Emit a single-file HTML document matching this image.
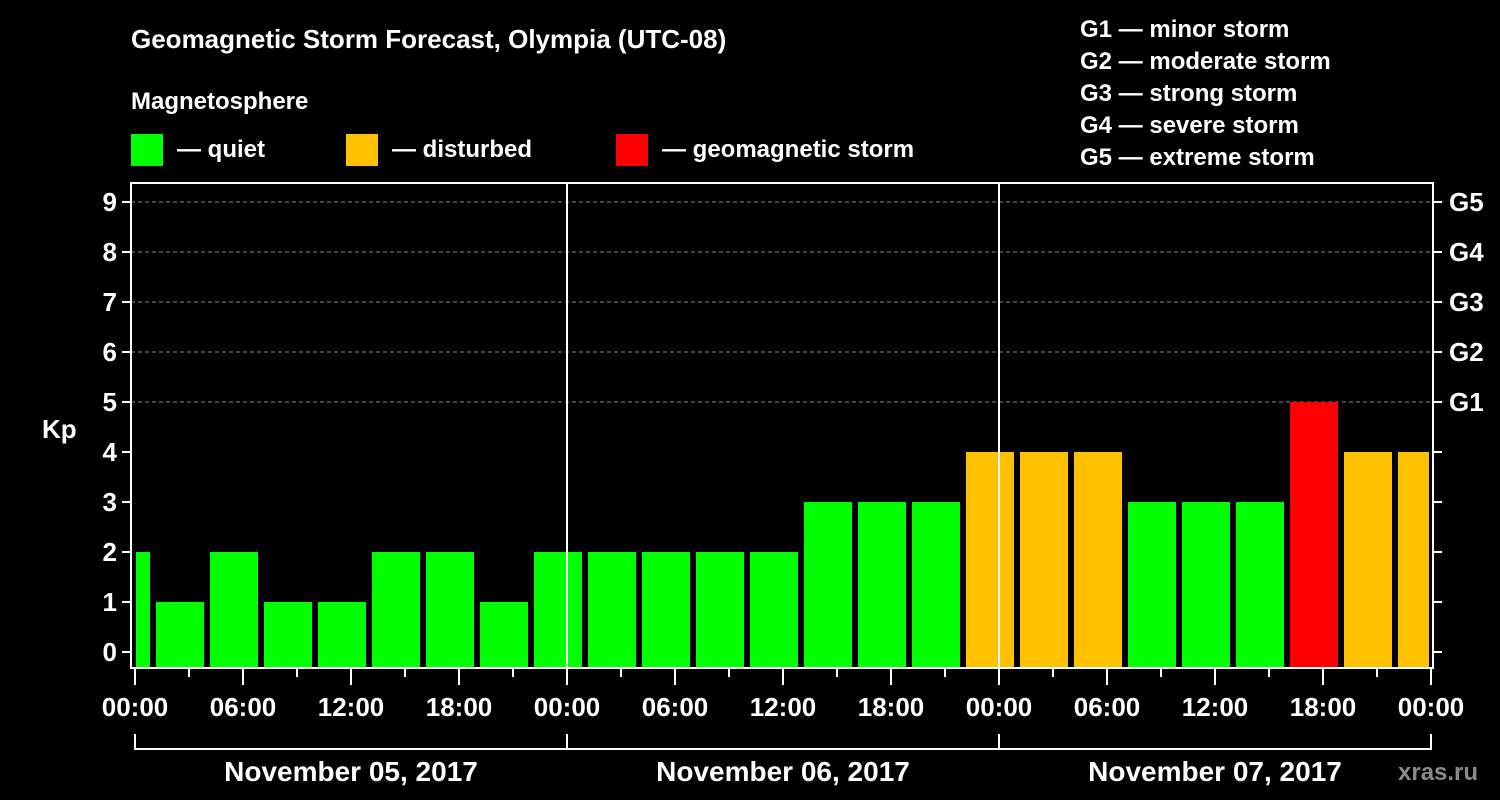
<!DOCTYPE html>
<html><head><meta charset="utf-8"><style>
body{margin:0;background:#000;width:1500px;height:800px;overflow:hidden}
svg{display:block}
text{font-family:"Liberation Sans",Arial,sans-serif;font-weight:bold;fill:#fff}
</style></head><body>
<svg id="chart" width="1500" height="800">
<text x="131" y="48" font-size="26">Geomagnetic Storm Forecast, Olympia (UTC-08)</text>
<text x="131" y="109" font-size="24">Magnetosphere</text>
<g><rect x="131" y="134" width="32" height="32" fill="#00ff00"/><text x="177" y="157" font-size="24">— quiet</text></g>
<g><rect x="346" y="134" width="32" height="32" fill="#ffc000"/><text x="392" y="157" font-size="24">— disturbed</text></g>
<g><rect x="616" y="134" width="32" height="32" fill="#ff0000"/><text x="662" y="157" font-size="24">— geomagnetic storm</text></g>
<g font-size="24">
<text x="1080" y="37">G1 — minor storm</text>
<text x="1080" y="69">G2 — moderate storm</text>
<text x="1080" y="101">G3 — strong storm</text>
<text x="1080" y="133">G4 — severe storm</text>
<text x="1080" y="165">G5 — extreme storm</text>
</g>
<text x="42" y="438" font-size="26">Kp</text>
<text x="1398" y="780" font-size="24" fill="#888" style="fill:#8a8a8a">xras.ru</text>
<g id="grid"></g><g id="bars"></g><g id="axes"></g>
</svg>
<script>
const kpValues=[2,1,2,1,1,2,2,1,2,2,2,2,2,3,3,3,4,4,4,3,3,3,5,4,4];
const barStartHours=[-2,1,4,7,10,13,16,19,22,25,28,31,34,37,40,43,46,49,52,55,58,61,64,67,70];
const dayLabels=["November 05, 2017","November 06, 2017","November 07, 2017"];
const yTicks=[0,1,2,3,4,5,6,7,8,9];
const gLabels=[[5,"G1"],[6,"G2"],[7,"G3"],[8,"G4"],[9,"G5"]];
const timeLabels=["00:00","06:00","12:00","18:00"];
const NS="http://www.w3.org/2000/svg";
const X0=135,HX=18,L=131,R=1433,T=183,B=668;
const xs=h=>X0+h*HX, ys=v=>652-v*50;
function mk(tag,attrs,parent){const e=document.createElementNS(NS,tag);for(const k in attrs)e.setAttribute(k,attrs[k]);document.getElementById(parent).appendChild(e);return e;}
yTicks.forEach(v=>{
 if(v>=5){const g=mk('line',{x1:L,x2:R,y1:ys(v),y2:ys(v),stroke:'#888','stroke-dasharray':'4,3','stroke-width':1},'grid');
 
 }
 const t=mk('line',{x1:L-9,x2:L,y1:ys(v),y2:ys(v),stroke:'#fff','stroke-width':2},'axes');
 
 
 const t2=mk('line',{x1:R,x2:R+9,y1:ys(v),y2:ys(v),stroke:'#fff','stroke-width':2},'axes');
 
 
 const lb=mk('text',{x:L-14,y:ys(v)+9,'font-size':26,'text-anchor':'end'},'axes');lb.textContent=v;
 
 
});
gLabels.forEach(([v,s])=>{const lb=mk('text',{x:R+16,y:ys(v)+9,'font-size':26},'axes');lb.textContent=s;
 
 });
kpValues.forEach((v,i)=>{
 let x1=Math.max(xs(barStartHours[i])+3,X0+1),x2=Math.min(xs(barStartHours[i]+3)-3,R-4);
 const col=v>=5?'#ff0000':v>=4?'#ffc000':'#00ff00';
 const b=mk('rect',{x:x1,y:ys(v),width:x2-x1,height:B-ys(v),fill:col},'bars');
 
 
});
[1,2].forEach(d=>{const l=mk('line',{x1:xs(24*d),x2:xs(24*d),y1:T,y2:B,stroke:'#fff','stroke-width':2},'axes');
 
 });
const fr=mk('rect',{x:L,y:T,width:R-L,height:B-T,fill:'none',stroke:'#fff','stroke-width':2},'axes');


for(let h=0;h<=72;h+=3){const t=mk('line',{x1:xs(h),x2:xs(h),y1:B,y2:B+(h%6==0?17:9),stroke:'#fff','stroke-width':2},'axes');
 
 
 if(h%6==0){const lb=mk('text',{x:xs(h),y:716,'font-size':26,'text-anchor':'middle'},'axes');lb.textContent=timeLabels[(h/6)%4];
 
 }}
const br=mk('path',{d:`M${xs(0)},734V749H${xs(72)}V734M${xs(24)},734V749M${xs(48)},734V749`,stroke:'#fff','stroke-width':2,fill:'none'},'axes');


dayLabels.forEach((s,i)=>{const lb=mk('text',{x:xs(24*i+12),y:781,'font-size':28,'text-anchor':'middle'},'axes');lb.textContent=s;
 
 });
</script>
</body></html>
